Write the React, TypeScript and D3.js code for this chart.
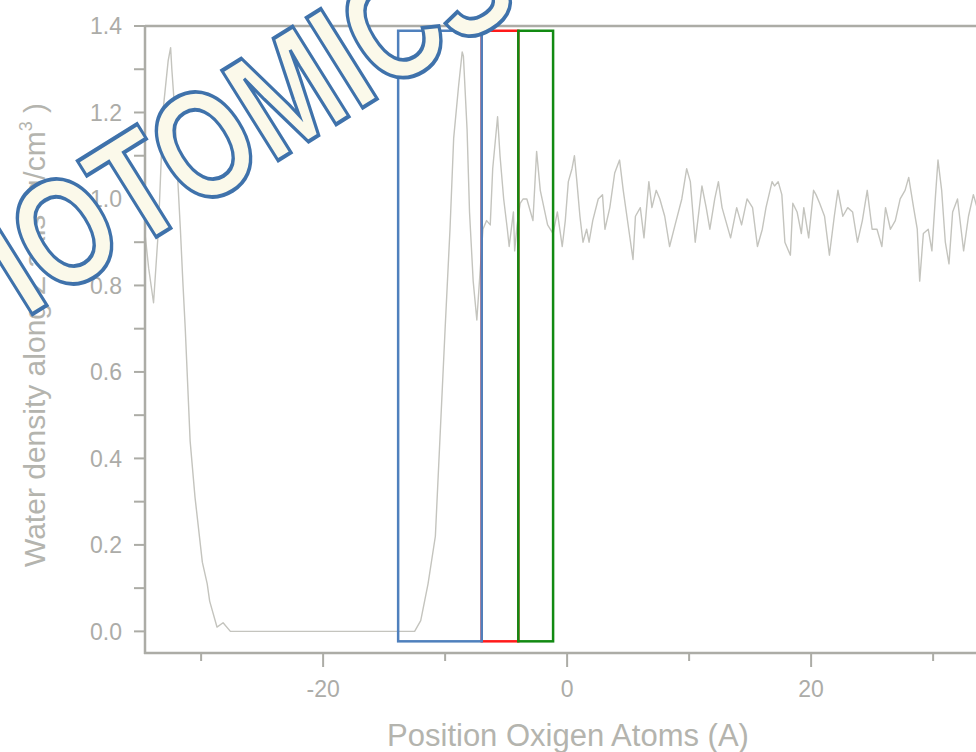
import React, { useEffect, useRef } from 'react';
import * as d3 from 'd3';

// Position of oxygen atoms (A) and water density (g/cm3)
const posX = [
  -34.6, -34.3, -33.9, -33.5, -33.1, -32.7, -32.5, -32.4, -32.1, -32.0, -31.7, -31.5, -31.3, -30.9, -30.5,
  -29.9, -29.5, -29.3, -28.7, -28.2, -27.6, -12.5, -12.0, -11.4, -10.8, -10.0, -9.6, -9.3, -8.9, -8.6,
  -8.5, -8.2, -8.0, -7.7, -7.4, -6.9, -6.6, -6.3, -6.1, -5.7, -5.5, -5.2, -4.9, -4.75, -4.4,
  -4.3, -4.1, -3.85, -3.6, -3.3, -3.0, -2.8, -2.5, -2.2, -1.9, -1.6, -1.15, -0.8, -0.4, -0.15,
  0.1, 0.4, 0.6, 0.8, 1.05, 1.3, 1.6, 1.8, 2.1, 2.55, 2.9, 3.1, 3.5, 3.9, 4.3,
  4.6, 4.9, 5.4, 5.6, 6.0, 6.3, 6.7, 6.95, 7.3, 7.6, 8.0, 8.4, 8.85, 9.4, 9.8,
  10.1, 10.5, 11.05, 11.4, 11.7, 12.1, 12.4, 12.7, 13.0, 13.4, 13.9, 14.3, 14.75, 15.2, 15.6,
  16.0, 16.3, 16.8, 17.0, 17.3, 17.6, 17.85, 18.3, 18.5, 18.85, 19.2, 19.4, 19.8, 20.2, 20.4,
  20.7, 21.1, 21.5, 21.9, 22.2, 22.6, 23.0, 23.4, 23.8, 24.2, 24.6, 25.0, 25.4, 25.8, 26.1,
  26.5, 26.9, 27.3, 27.7, 28.0, 28.4, 28.7, 28.9, 29.2, 29.6, 29.9, 30.2, 30.4, 30.7, 31.0,
  31.3, 31.6, 32.0, 32.5, 32.9, 33.3, 33.6
];
const density = [
  0.92, 0.84, 0.76, 0.93, 1.21, 1.32, 1.35, 1.30, 1.18, 1.09, 0.93, 0.81, 0.70, 0.44, 0.31,
  0.16, 0.11, 0.07, 0.01, 0.02, 0.0, 0.0, 0.025, 0.11, 0.22, 0.70, 0.93, 1.14, 1.26, 1.34,
  1.33, 1.16, 0.97, 0.81, 0.72, 0.93, 0.95, 0.94, 1.07, 1.19, 1.10, 1.00, 0.93, 0.89, 0.97,
  0.88, 0.94, 0.99, 1.00, 1.00, 0.97, 0.95, 1.11, 1.02, 0.98, 0.94, 0.92, 0.97, 0.89, 0.95,
  1.04, 1.07, 1.10, 1.04, 0.96, 0.90, 0.93, 0.90, 0.95, 1.00, 1.01, 0.93, 0.98, 1.06, 1.09,
  1.02, 0.96, 0.86, 0.96, 0.98, 0.91, 1.04, 0.98, 1.02, 1.00, 0.96, 0.89, 0.94, 1.00, 1.07,
  1.04, 0.90, 1.03, 0.98, 0.93, 1.00, 1.04, 0.98, 0.95, 0.91, 0.98, 0.94, 1.00, 0.98, 0.89,
  0.93, 0.98, 1.04, 1.03, 1.04, 1.01, 0.90, 0.87, 0.99, 0.97, 0.92, 0.98, 0.91, 1.02, 1.01,
  0.99, 0.96, 0.87, 0.96, 1.02, 0.96, 0.98, 0.97, 0.90, 0.95, 1.02, 0.93, 0.93, 0.89, 0.98,
  0.93, 0.95, 1.00, 1.02, 1.05, 0.98, 0.93, 0.81, 0.92, 0.93, 0.88, 1.01, 1.09, 1.02, 0.90,
  0.85, 0.97, 1.00, 0.88, 0.96, 1.01, 0.98
];

const xMajor = [-20, 0, 20];
const xMinor = [-30, -10, 10, 30];
const yMajor = [0, 0.2, 0.4, 0.6, 0.8, 1.0, 1.2, 1.4];
const yMinor = [0.1, 0.3, 0.5, 0.7, 0.9, 1.1, 1.3];

// highlighted regions: [x0, x1, color]
const regionX0 = [-13.85, -7.0, -4.0];
const regionX1 = [-7.0, -4.0, -1.15];
const regionColor = ['#4f80bd', '#ff1a1a', '#128a12'];
const regionOrder = [1, 0, 2];
const regionTop = 1.389;
const regionBottom = -0.023;

const W = 976;
const H = 752;
const axisColor = '#acaca6';
const textColor = '#acaca8';
const font = '"Liberation Sans", Arial, sans-serif';

export default function App() {
  const ref = useRef<SVGSVGElement>(null);

  useEffect(() => {
    const svg = d3.select(ref.current);
    svg.selectAll('*').remove();

    const left = 145, top = 26, bottom = 653;
    const x = d3.scaleLinear().domain([-34.6, 35]).range([left, left + 69.6 * 12.2]);
    const y = d3.scaleLinear().domain([-0.05, 1.4]).range([bottom, top]);

    // frame lines
    svg.append('line')
      .attr('x1', left).attr('x2', W + 2).attr('y1', top).attr('y2', top)
      .attr('stroke', axisColor).attr('stroke-width', 2.5);

    // density curve
    const line = d3.line<number>()
      .x((d, i) => x(posX[i]))
      .y((d) => y(d));
    svg.append('path')
      .datum(density)
      .attr('d', line)
      .attr('fill', 'none')
      .attr('stroke', '#c4c4be')
      .attr('stroke-width', 1.4)
      .attr('stroke-linejoin', 'round');

    // left axis
    svg.append('line')
      .attr('x1', left).attr('x2', left).attr('y1', top - 1).attr('y2', bottom + 1)
      .attr('stroke', axisColor).attr('stroke-width', 2.5);
    svg.selectAll('.ytick')
      .data([...yMajor, ...yMinor])
      .enter().append('line')
      .attr('x1', left - 11).attr('x2', left)
      .attr('y1', (d) => y(d)).attr('y2', (d) => y(d))
      .attr('stroke', axisColor).attr('stroke-width', 2);
    svg.selectAll('.ylab')
      .data(yMajor)
      .enter().append('text')
      .attr('x', 122).attr('y', (d) => y(d))
      .attr('dy', '0.36em')
      .attr('text-anchor', 'end')
      .attr('font-family', font).attr('font-size', 23)
      .attr('fill', textColor)
      .text((d) => d3.format('.1f')(d));

    // bottom axis
    svg.append('line')
      .attr('x1', left - 1).attr('x2', W + 2).attr('y1', bottom).attr('y2', bottom)
      .attr('stroke', axisColor).attr('stroke-width', 2.5);
    svg.selectAll('.xtick')
      .data(xMajor)
      .enter().append('line')
      .attr('x1', (d) => x(d)).attr('x2', (d) => x(d))
      .attr('y1', bottom).attr('y2', bottom + 14)
      .attr('stroke', axisColor).attr('stroke-width', 2);
    svg.selectAll('.xminor')
      .data(xMinor)
      .enter().append('line')
      .attr('x1', (d) => x(d)).attr('x2', (d) => x(d))
      .attr('y1', bottom).attr('y2', bottom + 8)
      .attr('stroke', axisColor).attr('stroke-width', 2);
    svg.selectAll('.xlab')
      .data(xMajor)
      .enter().append('text')
      .attr('x', (d) => x(d)).attr('y', 697)
      .attr('text-anchor', 'middle')
      .attr('font-family', font).attr('font-size', 23)
      .attr('fill', textColor)
      .text((d) => String(d));

    // axis titles
    svg.append('text')
      .attr('x', 568).attr('y', 746)
      .attr('text-anchor', 'middle')
      .attr('font-family', font).attr('font-size', 31)
      .attr('fill', '#b4b4ae')
      .text('Position Oxigen Atoms (A)');

    const yt = svg.append('text')
      .attr('transform', 'translate(45,335) rotate(-90)')
      .attr('text-anchor', 'middle')
      .attr('font-family', font).attr('font-size', 30)
      .attr('fill', '#b4b4ae');
    yt.append('tspan').text('Water density along Z axis (g/cm');
    yt.append('tspan').attr('font-size', 18).attr('dy', -13).text('3');
    yt.append('tspan').attr('dy', 13).text(' )');

    // region boxes
    regionOrder.forEach((i) => {
      svg.append('rect')
        .attr('x', x(regionX0[i])).attr('y', y(regionTop))
        .attr('width', x(regionX1[i]) - x(regionX0[i]))
        .attr('height', y(regionBottom) - y(regionTop))
        .attr('fill', 'none')
        .attr('stroke', regionColor[i])
        .attr('stroke-width', 2.5);
    });

    // watermark (tall, condensed outlined letters)
    svg.append('text')
      .attr('transform', 'translate(-3,273) rotate(-32) scale(0.776,1)')
      .attr('text-anchor', 'start')
      .attr('dominant-baseline', 'central')
      .attr('font-family', font).attr('font-size', 154)
      .attr('font-weight', 'bold')
      .attr('fill', '#fbf9ea')
      .attr('stroke', '#3f72ab')
      .attr('stroke-width', 4)
      .text('IOTOMICS');
  }, []);

  return (
    <div style={{ position: 'absolute', left: 0, top: 0, background: '#fff' }}>
      <svg ref={ref} width={W} height={H} style={{ display: 'block' }} />
    </div>
  );
}
